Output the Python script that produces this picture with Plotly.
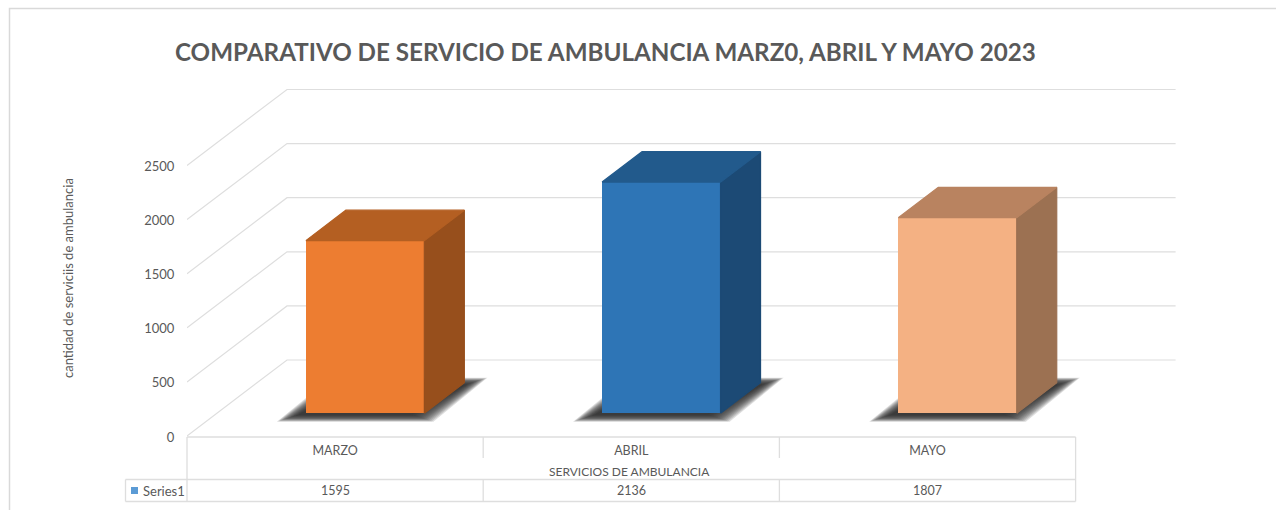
import plotly.graph_objects as go

# --- data ---
CATEGORIES = ["MARZO", "ABRIL", "MAYO"]
SERIES_NAME = "Series1"
VALUES = [1595, 2136, 1807]
Y_TICKS = [0, 500, 1000, 1500, 2000, 2500]
TITLE = "COMPARATIVO DE SERVICIO DE AMBULANCIA MARZ0, ABRIL Y MAYO 2023"
Y_TITLE = "cantidad de serviciis de ambulancia"
X_TITLE = "SERVICIOS DE AMBULANCIA"

# --- colours ---
FRONT = ["#ED7D31", "#2E75B6", "#F4B183"]
TOP = ["#B45F22", "#225A8C", "#B98360"]
SIDE = ["#974F1C", "#1C4A75", "#9C7152"]
TEXT = "#595959"
GRID = "#DEDEDE"

# --- 3D look: pixel scale and oblique projection ---
W, H = 1276, 510
ML, MR, MT, MB = 187, 90, 85, 74
PX_PER_CAT = 296.2
PX_PER_VAL = 0.1082
DX = 100 / PX_PER_CAT      # category units per full depth
DY = 76 / PX_PER_VAL       # value units per full depth
BAR_W = 0.4
BAR_D0, BAR_D1 = 0.3, 0.7  # depth range of the bars
PW, PH = W - ML - MR, H - MT - MB


def px(x):   # pixel -> paper
    return (x - ML) / PW


def py(y):   # pixel -> paper
    return (H - MB - y) / PH


def proj(x, v, d):
    return x + DX * d, v + DY * d


def path(points):
    return "M " + " L ".join(f"{x:.4f} {y:.3f}" for x, y in points) + " Z"


fig = go.Figure()
shapes = []
annotations = []

# back wall + side wall gridlines
for v in Y_TICKS:
    a = proj(0, v, 0)
    b = proj(0, v, 1)
    c = proj(len(CATEGORIES), v, 1)
    shapes.append(dict(type="path", layer="below", xref="x", yref="y",
                       path=f"M {a[0]} {a[1]} L {b[0]} {b[1]} L {c[0]} {c[1]}",
                       line=dict(color=GRID, width=1.2)))

# soft floor shadows: stacked translucent parallelograms, largest first
for i, val in enumerate(VALUES):
    left = i + 0.5 - BAR_W / 2
    right = i + 0.5 + BAR_W / 2
    n = 16
    for k in range(n):
        t = k / (n - 1)
        grow_x = (1 - 2 * t) * 11 / PX_PER_CAT
        grow_y = (1 - 2 * t) * 3.5 / PX_PER_VAL
        x0 = left - 18 / PX_PER_CAT
        x1 = right - 2 / PX_PER_CAT
        d0, d1 = 0.3, 0.72
        dy0 = -5 / PX_PER_VAL
        shift = 12 / PX_PER_CAT
        pts = [
            (x0 + DX * d0 - grow_x, DY * d0 + dy0 - grow_y),
            (x1 + DX * d0 + grow_x, DY * d0 + dy0 - grow_y),
            (x1 + DX * d1 + shift + grow_x, DY * d1 + grow_y),
            (x0 + DX * d1 + shift - grow_x, DY * d1 + grow_y),
        ]
        shapes.append(dict(type="path", layer="below", xref="x", yref="y",
                           path=path(pts), line=dict(width=0),
                           fillcolor="rgba(50,50,50,0.16)"))

# front faces: real bars
fig.add_trace(go.Bar(
    x=[i + 0.5 + DX * BAR_D0 for i in range(len(VALUES))],
    y=VALUES,
    base=[DY * BAR_D0] * len(VALUES),
    width=BAR_W,
    marker=dict(color=FRONT, line=dict(width=0)),
    name=SERIES_NAME,
    customdata=CATEGORIES,
    hovertemplate="%{customdata}: %{y}<extra></extra>",
))

# side and top faces
for i, val in enumerate(VALUES):
    left = i + 0.5 - BAR_W / 2
    right = i + 0.5 + BAR_W / 2
    side = [proj(right, 0, BAR_D0), proj(right, 0, BAR_D1),
            proj(right, val, BAR_D1), proj(right, val, BAR_D0), proj(right, 0, BAR_D0)]
    top = [proj(left, val, BAR_D0), proj(right, val, BAR_D0),
           proj(right, val, BAR_D1), proj(left, val, BAR_D1), proj(left, val, BAR_D0)]
    for poly, col in ((side, SIDE[i]), (top, TOP[i])):
        fig.add_trace(go.Scatter(
            x=[p[0] for p in poly], y=[p[1] for p in poly],
            mode="lines", fill="toself", fillcolor=col,
            line=dict(width=1.2, color=col), hoverinfo="skip", showlegend=False,
            cliponaxis=False,
        ))

# outer frame of the chart area
shapes.append(dict(type="path", xref="paper", yref="paper",
                   path=f"M {px(9.5)} {py(H)} L {px(9.5)} {py(8.5)} L {px(W)} {py(8.5)}",
                   line=dict(color="#D9D9D9", width=1.5)))


def table_line(x0, y0, x1, y1):
    shapes.append(dict(type="line", xref="paper", yref="paper",
                       x0=px(x0), y0=py(y0), x1=px(x1), y1=py(y1),
                       line=dict(color=GRID, width=1.3)))


# data table under the chart
XT = [ML + i * PX_PER_CAT for i in range(len(CATEGORIES) + 1)]
T0, T1, T2, T3 = 437, 458, 479.5, 501.5
LEG_X = 125.5
table_line(XT[0], T0, XT[-1], T0)
table_line(LEG_X, T2, XT[-1], T2)
table_line(LEG_X, T3, XT[-1], T3)
table_line(LEG_X, T2, LEG_X, T3)
table_line(XT[0], T0, XT[0], T3)
table_line(XT[-1], T0, XT[-1], T3)
for x in XT[1:-1]:
    table_line(x, T0, x, T1)
    table_line(x, T2, x, T3)

# legend key swatch
shapes.append(dict(type="rect", xref="paper", yref="paper",
                   x0=px(131), x1=px(138), y0=py(494), y1=py(487),
                   line=dict(width=0), fillcolor="#5B9BD5"))

FONT = "Lato"
annotations.append(dict(text=SERIES_NAME, xref="paper", yref="paper", x=px(141), y=py(490.5),
                        xanchor="left", yanchor="middle", showarrow=False,
                        font=dict(family=FONT, size=13, color=TEXT)))
for i, val in enumerate(VALUES):
    annotations.append(dict(text=str(val), xref="x", yref="paper", x=i + 0.5, y=py(490.5),
                            xanchor="center", yanchor="middle", showarrow=False,
                            font=dict(family=FONT, size=12.5, color=TEXT)))
annotations.append(dict(text=X_TITLE, xref="paper", yref="paper", x=px(629), y=py(471),
                        xanchor="center", yanchor="middle", showarrow=False,
                        font=dict(family=FONT, size=12, color=TEXT)))
annotations.append(dict(text=Y_TITLE, xref="paper", yref="paper", x=px(68), y=py(278),
                        xanchor="center", yanchor="middle", textangle=-90, showarrow=False,
                        font=dict(family=FONT, size=13, color=TEXT)))
annotations.append(dict(text=f"<b>{TITLE}</b>", xref="paper", yref="paper", x=px(605), y=py(52),
                        xanchor="center", yanchor="middle", showarrow=False,
                        font=dict(family=FONT, size=24.2, color=TEXT)))

fig.update_layout(
    width=W, height=H,
    autosize=False,
    margin=dict(l=ML, r=MR, t=MT, b=MB, pad=0),
    paper_bgcolor="white", plot_bgcolor="white",
    showlegend=False,
    bargap=0,
    shapes=shapes,
    annotations=annotations,
    xaxis=dict(range=[0, PW / PX_PER_CAT], showgrid=False, zeroline=False, showline=False,
               tickmode="array", tickvals=[i + 0.5 for i in range(len(CATEGORIES))],
               ticktext=CATEGORIES, ticks="outside", ticklen=3, tickcolor="rgba(0,0,0,0)",
               tickfont=dict(family=FONT, size=12.5, color=TEXT)),
    yaxis=dict(range=[0, PH / PX_PER_VAL], showgrid=False, zeroline=False, showline=False,
               tickmode="array", tickvals=Y_TICKS, ticktext=[str(v) for v in Y_TICKS],
               ticks="outside", ticklen=9, tickcolor="rgba(0,0,0,0)", ticklabelshift=1,
               tickfont=dict(family=FONT, size=13, color=TEXT)),
)

fig.write_html("out.html", config=dict(displayModeBar=False),
               post_script="document.body.style.margin='0';document.body.style.overflow='hidden';")
